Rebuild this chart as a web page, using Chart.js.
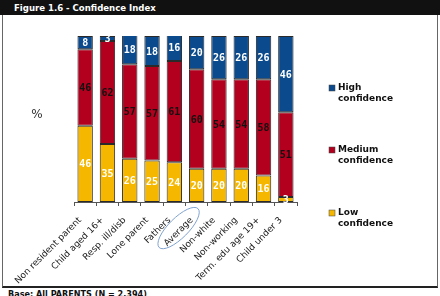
<!DOCTYPE html>
<html>
<head>
<meta charset="utf-8">
<script src="https://cdn.jsdelivr.net/npm/chart.js@4/dist/chart.umd.min.js"></script>
<style>
    body { margin: 0; background: #fff; }
    #wrap { position: relative; width: 440px; height: 296px; overflow: hidden; font-family: 'DejaVu Sans', Verdana, sans-serif; }
    #head { position: absolute; left: 0; top: 0; width: 440px; height: 15px; background: #111; color: #fff;
        font: bold 9.5px 'DejaVu Sans Condensed', 'DejaVu Sans', sans-serif; line-height: 15px; padding-left: 14px; box-sizing: border-box; }
    #frame { position: absolute; left: 2px; top: 15px; width: 434px; height: 271px; border-left: 1px solid #666;
        border-right: 1px solid #666; border-bottom: 2px solid #222; box-sizing: content-box; }
    #box { position: absolute; left: 3px; top: 15px; width: 434px; height: 271px; }
    #foot { position: absolute; left: 8px; top: 289px; font: bold 9px 'DejaVu Sans Condensed', 'DejaVu Sans', sans-serif; color: #111; }
</style>
</head>
<body>
<div id="wrap">
    <div id="head">Figure 1.6 - Confidence Index</div>
    <div id="frame"></div>
    <div id="box"><canvas id="chart"></canvas></div>
    <div id="foot">Base: All PARENTS (N = 2,394)</div>
</div>
<script>
const categories = ['Non resident parent', 'Child aged 16+', 'Resp. ill/disb', 'Lone parent', 'Fathers',
    'Average', 'Non-white', 'Non-working', 'Term. edu age 19+', 'Child under 3'];
const lowConfidence = [46, 35, 26, 25, 24, 20, 20, 20, 16, 3];
const mediumConfidence = [46, 62, 57, 57, 61, 60, 54, 54, 58, 51];
const highConfidence = [8, 3, 18, 18, 16, 20, 26, 26, 26, 46];
const seriesNames = [['Low', 'confidence'], ['Medium', 'confidence'], ['High', 'confidence']];
const highlighted = 'Average';

const colors = {
    low: '#f5b700',
    medium: '#b3001e',
    high: '#0b4a8c'
};

const tickFont = { family: 'DejaVu Sans', size: 9 };
const tickPad = 9;
const tickShift = -5;

// value labels inside each segment
const segmentLabels = {
    id: 'segmentLabels',
    afterDatasetsDraw(chart) {
        const ctx = chart.ctx;
        ctx.save();
        ctx.font = 'bold 10px "DejaVu Sans Mono", monospace';
        ctx.textAlign = 'center';
        ctx.textBaseline = 'middle';
        chart.data.datasets.forEach((ds, i) => {
            const meta = chart.getDatasetMeta(i);
            meta.data.forEach((bar, j) => {
                ctx.fillStyle = ds.labelColor;
                ctx.fillText(ds.data[j], bar.x, (bar.y + bar.base) / 2 + 1);
            });
        });
        ctx.restore();
    }
};

// legend on the right, "%" axis mark and the ring round the highlighted category
const extras = {
    id: 'extras',
    afterDraw(chart) {
        const ctx = chart.ctx;
        const area = chart.chartArea;
        ctx.save();

        ctx.fillStyle = '#333';
        ctx.font = '12px "DejaVu Sans", sans-serif';
        ctx.textAlign = 'center';
        ctx.textBaseline = 'middle';
        ctx.fillText('%', 34, 100);

        const order = [2, 1, 0];
        const ys = [73, 135, 198];
        ctx.font = 'bold 9px "DejaVu Sans", sans-serif';
        ctx.textAlign = 'left';
        ctx.textBaseline = 'middle';
        order.forEach((di, k) => {
            const ds = chart.data.datasets[di];
            const x = area.right + 32;
            const y = ys[k];
            ctx.fillStyle = ds.backgroundColor;
            ctx.fillRect(x, y - 3, 6, 6);
            ctx.strokeStyle = '#444';
            ctx.lineWidth = 0.5;
            ctx.strokeRect(x, y - 3, 6, 6);
            ctx.fillStyle = '#111';
            ds.legendLines.forEach((line, n) => ctx.fillText(line, x + 9, y + n * 11));
        });

        const xs = chart.scales.x;
        const idx = categories.indexOf(highlighted);
        const tx = xs.getPixelForTick(idx) + tickShift;
        const ay = area.bottom + 4 + tickPad;
        ctx.font = tickFont.size + 'px "DejaVu Sans", sans-serif';
        const w = ctx.measureText(highlighted).width;
        const d = Math.SQRT1_2;
        const cx = tx - (w / 2) * d;
        const cy = ay + (w / 2) * d;
        ctx.strokeStyle = '#7fa2cf';
        ctx.lineWidth = 1;
        ctx.beginPath();
        ctx.ellipse(cx, cy, w / 2 + 9, 10, -Math.PI / 4, 0, Math.PI * 2);
        ctx.stroke();
        ctx.restore();
    }
};

new Chart(document.getElementById('chart'), {
    type: 'bar',
    data: {
        labels: categories,
        datasets: [
            { label: 'Low confidence', legendLines: seriesNames[0], data: lowConfidence, backgroundColor: colors.low, labelColor: '#fff' },
            { label: 'Medium confidence', legendLines: seriesNames[1], data: mediumConfidence, backgroundColor: colors.medium, labelColor: '#111' },
            { label: 'High confidence', legendLines: seriesNames[2], data: highConfidence, backgroundColor: colors.high, labelColor: '#fff' }
        ].map(ds => Object.assign(ds, {
            borderColor: '#2a2a2a',
            borderWidth: 1,
            borderSkipped: false,
            categoryPercentage: 1,
            barPercentage: 0.69
        }))
    },
    options: {
        responsive: true,
        maintainAspectRatio: false,
        animation: false,
        layout: { padding: { left: 71, right: 140, top: 21, bottom: 0 } },
        plugins: {
            legend: { display: false },
            tooltip: { enabled: false }
        },
        scales: {
            x: {
                stacked: true,
                afterFit: (scale) => { scale.height = 84; },
                border: { display: true, color: '#555' },
                grid: { display: true, drawOnChartArea: false, tickLength: 4, color: '#555' },
                ticks: {
                    color: '#222',
                    font: tickFont,
                    minRotation: 45,
                    maxRotation: 45,
                    autoSkip: false,
                    padding: tickPad,
                    labelOffset: tickShift
                }
            },
            y: {
                stacked: true,
                display: false,
                min: 0,
                max: 100
            }
        }
    },
    plugins: [segmentLabels, extras]
});
</script>
</body>
</html>
